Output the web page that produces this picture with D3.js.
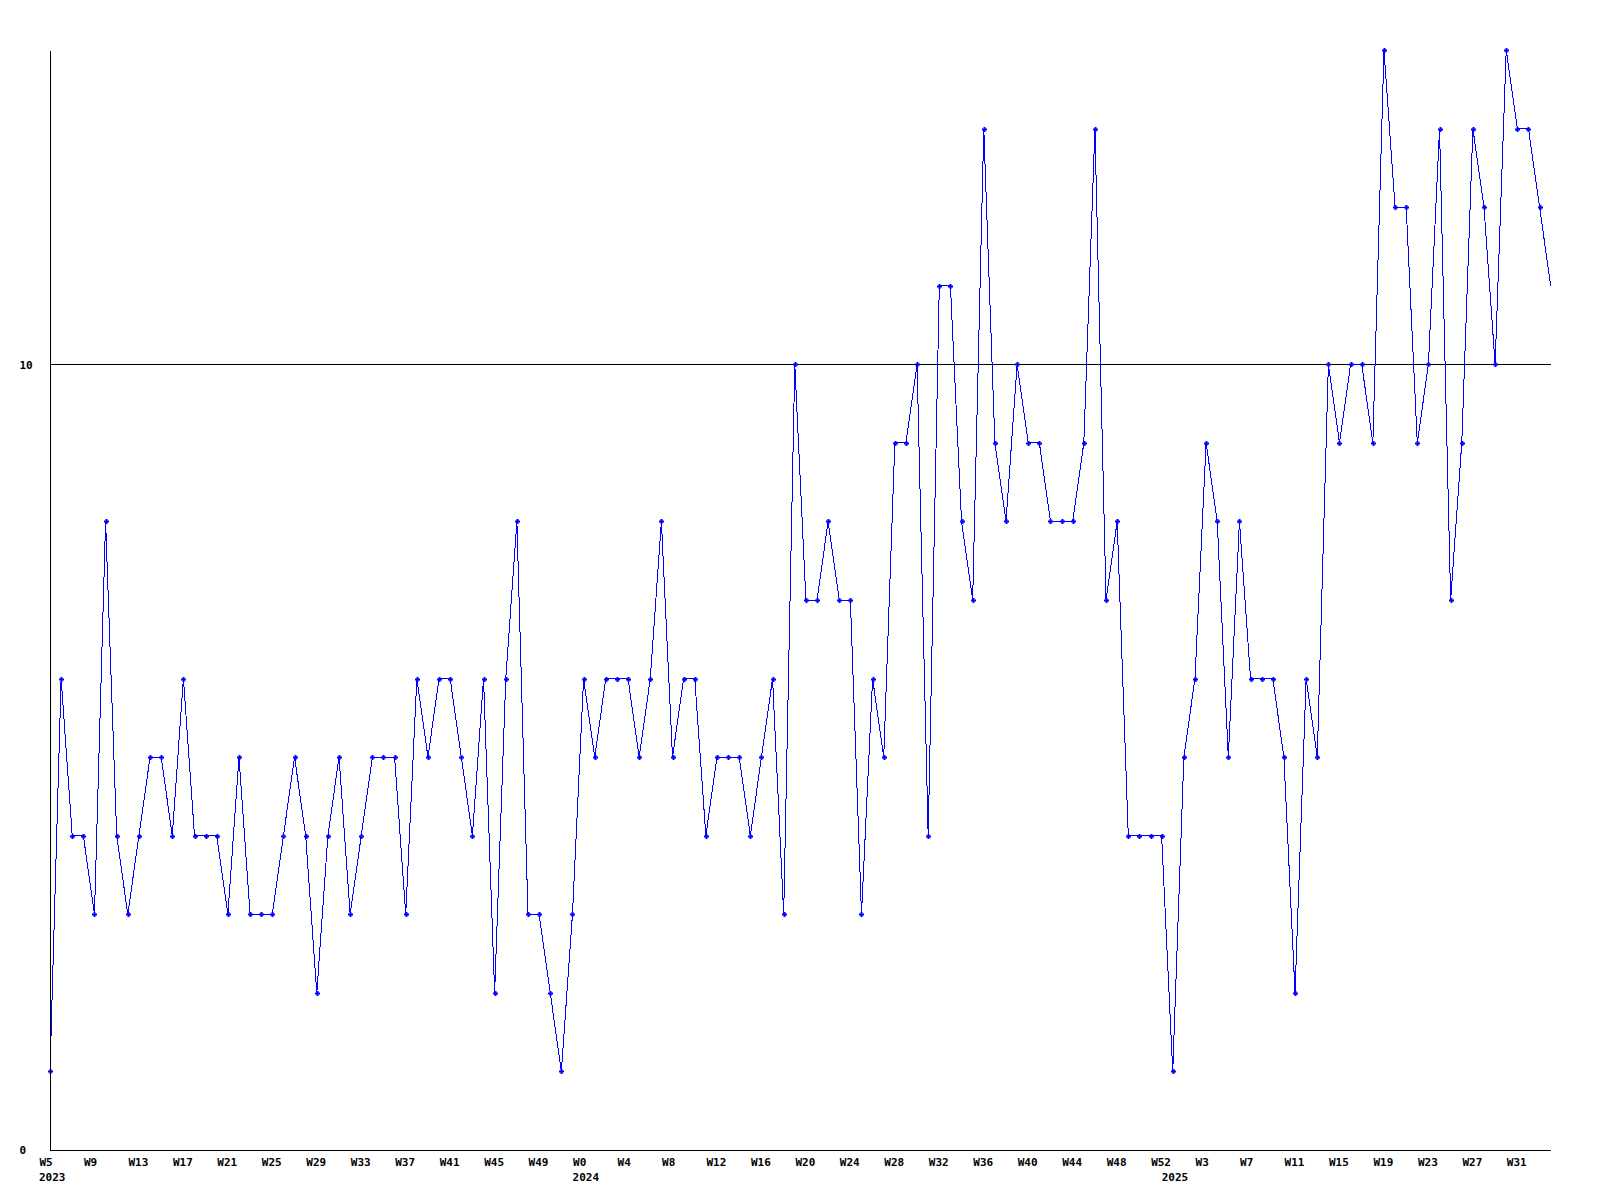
<!DOCTYPE html>
<html><head><meta charset="utf-8">
<script src="https://cdn.jsdelivr.net/npm/d3@7"></script>
<style>
body{margin:0;background:#fff}
svg{display:block}
text{font-family:"DejaVu Sans Mono","Liberation Mono",monospace;font-weight:bold;font-size:11px;fill:#000}
</style>
</head><body>
<svg id="c" width="1600" height="1200"></svg>
<script>
// ---- data ----
const years = [2023, 2024, 2025];
const weeks2023 = ["W5","W6","W7","W8","W9","W10","W11","W12","W13","W14","W15","W16","W17","W18","W19","W20","W21","W22","W23","W24","W25","W26","W27","W28","W29","W30","W31","W32","W33","W34","W35","W36","W37","W38","W39","W40","W41","W42","W43","W44","W45","W46","W47","W48","W49","W50","W51","W52"];
const weeks2024 = ["W0","W1","W2","W3","W4","W5","W6","W7","W8","W9","W10","W11","W12","W13","W14","W15","W16","W17","W18","W19","W20","W21","W22","W23","W24","W25","W26","W27","W28","W29","W30","W31","W32","W33","W34","W35","W36","W37","W38","W39","W40","W41","W42","W43","W44","W45","W46","W47","W48","W49","W50","W51","W52"];
const weeks2025 = ["W0","W1","W2","W3","W4","W5","W6","W7","W8","W9","W10","W11","W12","W13","W14","W15","W16","W17","W18","W19","W20","W21","W22","W23","W24","W25","W26","W27","W28","W29","W30","W31","W32","W33","W34"];
const values2023 = [1,6,4,4,3,8,4,3,4,5, 5,4,6,4,4,4,3,5,3,3, 3,4,5,4,2,4,5,3,4,5, 5,5,3,6,5,6,6,5,4,6, 2,6,8,3,3,2,1,3];
const values2024 = [6,5,6,6,6,5,6,8,5,6, 6,4,5,5,5,4,5,6,3,10, 7,7,8,7,7,3,6,5,9,9, 10,4,11,11,8,7,13,9,8,10, 9,9,8,8,8,9,13,7,8,4, 4,4,4];
const values2025 = [1,5,6,9,8,5,8,6,6,6, 5,2,6,5,10,9,10,10,9,14, 12,12,9,10,13,7,9,13,12,10, 14,13,13,12,11];
const yTickValues = [0, 10];
const yMax = 14;

// ---- assemble ----
const weekLabels = [...weeks2023, ...weeks2024, ...weeks2025];
const values = [...values2023, ...values2024, ...values2025];
const yearStart = [0, weeks2023.length, weeks2023.length + weeks2024.length];
const idx = d3.range(values.length);

const svg = d3.select("#c");
const x = d3.scaleLinear().domain([0, values.length - 1]).range([50, 1550.7]);
const y = d3.scaleLinear().domain([0, yMax]).range([1150, 50]);

// gridline at 10
svg.append("g").selectAll("line").data(yTickValues.filter(v => v > 0)).join("line")
  .attr("x1", 50).attr("x2", 1551)
  .attr("y1", d => Math.round(y(d)) + 0.5).attr("y2", d => Math.round(y(d)) + 0.5)
  .attr("stroke", "#000").attr("stroke-width", 1).attr("shape-rendering", "crispEdges");

// line
svg.append("path").datum(idx)
  .attr("d", d3.line().x(i => x(i)).y(i => y(values[i])))
  .attr("fill", "none").attr("stroke", "#0000ff").attr("stroke-width", 1)
  .attr("shape-rendering", "crispEdges");

// markers (last point has none)
const marker = "M-2.5,-1H-1V-2.5H1V-1H2.5V1H1V2.5H-1V1H-2.5Z";
svg.append("g").selectAll("path").data(idx.slice(0, -1)).join("path")
  .attr("transform", i => `translate(${Math.round(x(i)) + 0.5},${Math.round(y(values[i])) + 0.5})`)
  .attr("d", marker).attr("fill", "#0000ff");

// y axis
const yAxis = svg.append("g").attr("transform", "translate(50,0)")
  .call(d3.axisLeft(y).tickValues(yTickValues).tickSize(0).tickSizeOuter(0).tickFormat(d3.format("d")));
yAxis.select(".domain").attr("stroke", "#000").attr("shape-rendering", "crispEdges");
yAxis.selectAll("text").attr("x", -30.5).attr("text-anchor", "start").attr("dy", "0.35em")
  .style("font-family", "DejaVu Sans Mono").style("font-size", "11px").style("font-weight", "bold");

// x axis
const labelIdx = idx.filter(i => i % 4 === 0);
const xAxis = svg.append("g").attr("transform", "translate(0,1150)")
  .call(d3.axisBottom(x).tickValues(labelIdx).tickSize(0).tickSizeOuter(0).tickFormat(i => weekLabels[i]));
xAxis.select(".domain").attr("stroke", "#000").attr("shape-rendering", "crispEdges");
xAxis.selectAll("text").attr("y", 16).attr("dy", 0).attr("dx", -11).attr("text-anchor", "start")
  .style("font-family", "DejaVu Sans Mono").style("font-size", "11px").style("font-weight", "bold");

// year labels
svg.append("g").selectAll("text").data(years).join("text")
  .attr("x", (d, k) => x(yearStart[k]) - 11).attr("y", 1181)
  .attr("text-anchor", "start").text(d => d);
</script>
</body></html>
